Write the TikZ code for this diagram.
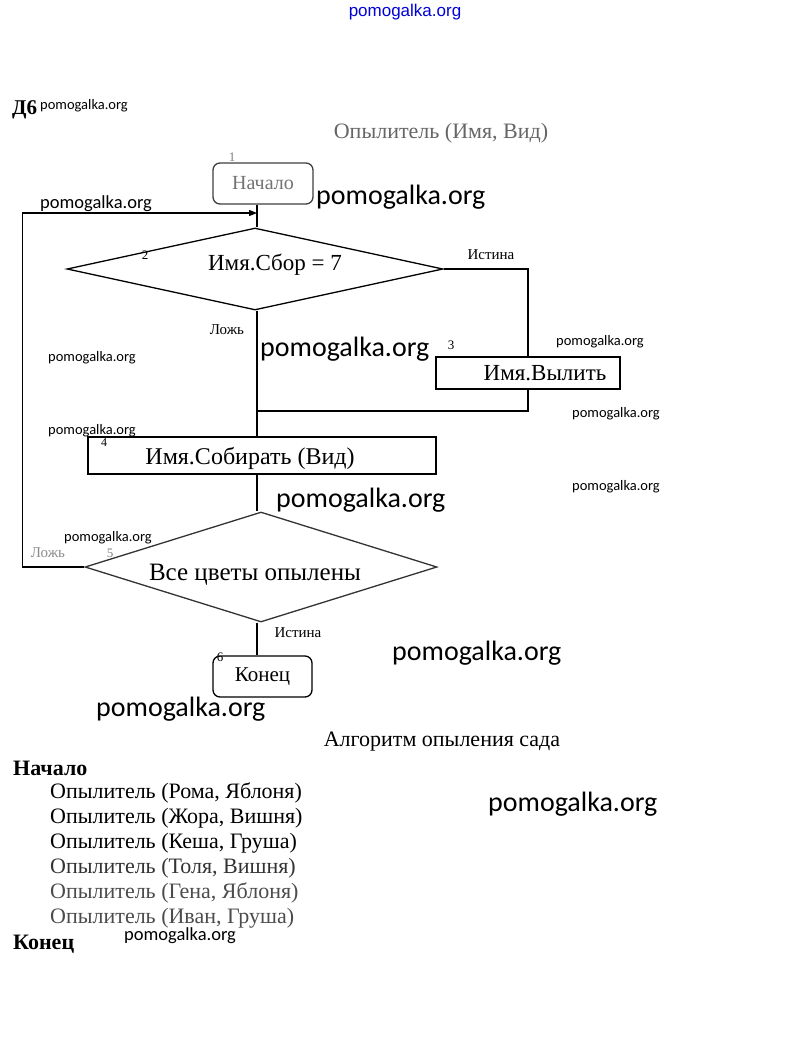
\documentclass[tikz,border=0pt]{standalone}
\usepackage{fontspec}
\setmainfont{Liberation Serif}
\newfontfamily\wmfont{Carlito}
\newfontfamily\topfont{Liberation Sans}
\usetikzlibrary{shapes.geometric,arrows.meta}
\tikzset{
  flow/.style={line width=1.3pt, black},
  blk/.style={draw, line width=1.3pt, inner sep=0pt},
  term/.style={blk, rounded corners=7pt},
  dia/.style={blk, diamond, aspect=4},
  main/.style={font=\fontsize{23}{26}\selectfont, inner sep=0pt},
  small/.style={font=\fontsize{15}{17}\selectfont, inner sep=0pt},
  tiny/.style={font=\fontsize{13}{15}\selectfont, inner sep=0pt},
  lst/.style={font=\fontsize{22}{24}\selectfont, inner sep=0pt, anchor=west},
  wmL/.style={font=\wmfont\fontsize{28}{30}\selectfont, inner sep=0pt, anchor=west},
  wmM/.style={font=\wmfont\fontsize{18.5}{20}\selectfont, inner sep=0pt, anchor=west},
  wmS/.style={font=\wmfont\fontsize{14.5}{16}\selectfont, inner sep=0pt, anchor=west},
}
\begin{document}
\begin{tikzpicture}[x=1pt,y=-1pt]
\useasboundingbox (0,0) rectangle (809,1050);
\fill[white] (0,0) rectangle (809,1050);

% header
\node[font=\topfont\fontsize{17}{19}\selectfont, text=blue!85!black, inner sep=0pt] (topwm) at (405,12) {pomogalka.org};
\node[font=\bfseries\fontsize{21}{22}\selectfont, inner sep=0pt, anchor=west] (d6) at (12,110) {Д6};
\node[wmS] (w1) at (40,106) {pomogalka.org};
\node[main, font=\fontsize{22}{26}\selectfont, text=black!60] (title) at (441,133) {Опылитель (Имя, Вид)};

% blocks
\node[term, draw=black!75, minimum width=100pt, minimum height=41pt, font=\fontsize{20}{22}\selectfont, text=black!55] (start) at (263,183.5) {Начало};
\node[tiny, text=black!50] (n1) at (232,157) {1};

\node[dia, minimum width=376pt, minimum height=82pt] (d1) at (255,269) {};
\node[main] (t1) at (275,265) {Имя.Сбор = 7};
\node[tiny] (n2) at (145,255) {2};

\node[blk, minimum width=184pt, minimum height=32pt] (b3) at (528,373) {};
\node[main] (t3) at (545,373) {Имя.Вылить};
\node[tiny] (n3) at (451,345) {3};

\node[blk, minimum width=348pt, minimum height=37pt] (b4) at (262,455.5) {};
\node[main, font=\fontsize{24}{26}\selectfont] (t4) at (250,458) {Имя.Собирать (Вид)};
\node[tiny, font=\fontsize{12}{14}\selectfont] (n4) at (104,443) {4};

\node[dia, draw=black!80, minimum width=352pt, minimum height=110pt] (d2) at (261,567) {};
\node[main, font=\fontsize{25}{27}\selectfont] (t5) at (255,575) {Все цветы опылены};
\node[tiny, text=black!50] (n5) at (110,553) {5};

\node[term, minimum width=99pt, minimum height=41pt, font=\fontsize{21}{23}\selectfont] (stop) at (262.5,676.5) {Конец};
\node[tiny] (n6) at (220,657) {6};

% branch labels
\node[small] (l1) at (491,255) {Истина};
\node[small] (l2) at (227,330) {Ложь};
\node[small, text=black!45] (l3) at (48,553) {Ложь};
\node[small] (l4) at (298,633) {Истина};

% connectors
\coordinate (jtop) at (257,213);
\coordinate (jmid) at (257,411);
\draw[flow] (start.south -| jtop) -- (jtop) -- (d1.north -| jtop);
\draw[flow] (d1.east) -| (b3.north);
\draw[flow] (b3.south) |- (jmid);
\draw[flow] (d1.south -| jtop) -- (b4.north -| jtop);
\draw[flow] (b4.south -| jtop) -- (d2.north -| jtop);
\draw[flow] (d2.south -| jtop) -- (stop.north -| jtop);
\draw[flow, -{Triangle[length=8pt,width=6pt]}] (d2.west) -- ++(-62,0) |- (jtop);

% watermarks
\node[wmL] (w2) at (316,197) {pomogalka.org};
\node[wmM] (w3) at (40,204) {pomogalka.org};
\node[wmL] (w4) at (260,349) {pomogalka.org};
\node[wmS] (w5) at (48,358) {pomogalka.org};
\node[wmS] (w6) at (556,342) {pomogalka.org};
\node[wmS] (w7) at (572,414) {pomogalka.org};
\node[wmS] (w8) at (48,431) {pomogalka.org};
\node[wmS] (w9) at (572,487) {pomogalka.org};
\node[wmL] (w10) at (276,500) {pomogalka.org};
\node[wmS] (w11) at (64,538) {pomogalka.org};
\node[wmL] (w12) at (392,653) {pomogalka.org};
\node[wmL] (w13) at (96,709) {pomogalka.org};
\node[wmL] (w14) at (488,804) {pomogalka.org};
\node[wmM] (w15) at (124,936) {pomogalka.org};

% algorithm text
\node[main, font=\fontsize{22}{24}\selectfont] (alg) at (442,742) {Алгоритм опыления сада};
\node[lst, font=\bfseries\fontsize{22}{24}\selectfont] (beg) at (13,768) {Начало};
\node[lst] (r1) at (50,793) {Опылитель (Рома, Яблоня)};
\node[lst] (r2) at (50,818) {Опылитель (Жора, Вишня)};
\node[lst] (r3) at (50,843) {Опылитель (Кеша, Груша)};
\node[lst, text=black!80] (r4) at (50,868) {Опылитель (Толя, Вишня)};
\node[lst, text=black!70] (r5) at (50,893) {Опылитель (Гена, Яблоня)};
\node[lst, text=black!70] (r6) at (50,918) {Опылитель (Иван, Груша)};
\node[lst, font=\bfseries\fontsize{22}{24}\selectfont] (fin) at (13,944) {Конец};
\end{tikzpicture}
\end{document}
